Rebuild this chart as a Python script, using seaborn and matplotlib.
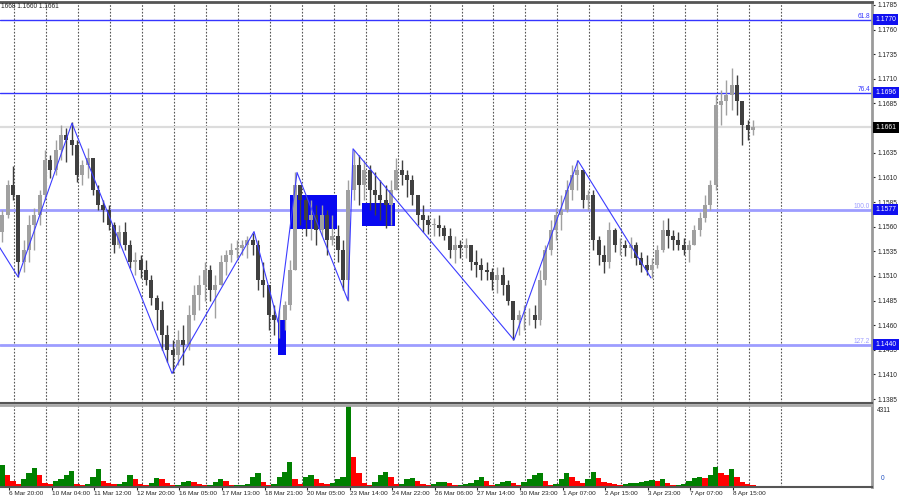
import numpy as np
import pandas as pd
import seaborn as sns
import matplotlib.pyplot as plt
import matplotlib.transforms as mtransforms
from matplotlib.patches import Rectangle

highs = [1.1577, 1.1607, 1.1622, 1.1592, 1.1546, 1.1572, 1.1579, 1.1597, 1.1638, 1.1633,
         1.1648, 1.1663, 1.1660, 1.1666, 1.1648, 1.1628, 1.1640, 1.1630, 1.1602, 1.1587,
         1.1582, 1.1565, 1.1562, 1.1565, 1.1546, 1.1534, 1.1531, 1.1526, 1.1511, 1.1491,
         1.1485, 1.1460, 1.1445, 1.1455, 1.1460, 1.1480, 1.1501, 1.1511, 1.1524, 1.1521,
         1.1511, 1.1531, 1.1536, 1.1543, 1.1546, 1.1546, 1.1551, 1.1554, 1.1546, 1.1524,
         1.1501, 1.1480, 1.1475, 1.1485, 1.1526, 1.1615, 1.1602, 1.1592, 1.1587, 1.1582,
         1.1582, 1.1577, 1.1572, 1.1562, 1.1546, 1.1607, 1.1638, 1.1633, 1.1628, 1.1623,
         1.1615, 1.1607, 1.1602, 1.1607, 1.1630, 1.1628, 1.1617, 1.1612, 1.1592, 1.1582,
         1.1572, 1.1569, 1.1572, 1.1562, 1.1559, 1.1551, 1.1546, 1.1548, 1.1541, 1.1536,
         1.1528, 1.1524, 1.1518, 1.1519, 1.1519, 1.1506, 1.1485, 1.1475, 1.1480, 1.1477,
         1.1480, 1.1516, 1.1541, 1.1567, 1.1579, 1.1592, 1.1607, 1.1623, 1.1628, 1.1617,
         1.1597, 1.1597, 1.1551, 1.1541, 1.1565, 1.1559, 1.1548, 1.1546, 1.1549, 1.1544,
         1.1534, 1.1531, 1.1528, 1.1541, 1.1567, 1.1569, 1.1557, 1.1555, 1.1548, 1.1546,
         1.1562, 1.1575, 1.1592, 1.1607, 1.1694, 1.1699, 1.1709, 1.1721, 1.1714, 1.1688,
         1.1668, 1.1668]
lows = [1.1544, 1.1569, 1.1587, 1.1509, 1.1514, 1.1524, 1.1536, 1.1562, 1.1587, 1.1609,
        1.1612, 1.1628, 1.1626, 1.1633, 1.1605, 1.1602, 1.1609, 1.1592, 1.1577, 1.1565,
        1.1557, 1.1533, 1.1538, 1.1536, 1.1518, 1.1511, 1.1508, 1.1501, 1.1480, 1.1455,
        1.1435, 1.1423, 1.1411, 1.1420, 1.1420, 1.1435, 1.1465, 1.1475, 1.1485, 1.1485,
        1.1467, 1.1501, 1.1511, 1.1524, 1.1528, 1.1531, 1.1528, 1.1531, 1.1496, 1.1489,
        1.1455, 1.1450, 1.1447, 1.1455, 1.1475, 1.1516, 1.1562, 1.1551, 1.1546, 1.1541,
        1.1551, 1.1531, 1.1541, 1.1524, 1.1496, 1.1485, 1.1587, 1.1582, 1.1587, 1.1577,
        1.1572, 1.1567, 1.1559, 1.1562, 1.1597, 1.1602, 1.1590, 1.1582, 1.1562, 1.1555,
        1.1553, 1.1551, 1.1551, 1.1546, 1.1528, 1.1523, 1.1528, 1.1528, 1.1516, 1.1509,
        1.1506, 1.1506, 1.1496, 1.1493, 1.1491, 1.1480, 1.1445, 1.1450, 1.1455, 1.1460,
        1.1457, 1.1460, 1.1501, 1.1531, 1.1546, 1.1557, 1.1575, 1.1587, 1.1597, 1.1579,
        1.1577, 1.1536, 1.1521, 1.1513, 1.1518, 1.1534, 1.1531, 1.1530, 1.1528, 1.1521,
        1.1514, 1.1511, 1.1508, 1.1518, 1.1534, 1.1538, 1.1536, 1.1536, 1.1531, 1.1524,
        1.1541, 1.1551, 1.1565, 1.1577, 1.1597, 1.1663, 1.1673, 1.1678, 1.1673, 1.1643,
        1.1648, 1.1653]
closes = [1.1572, 1.1602, 1.1592, 1.1524, 1.1536, 1.1562, 1.1572, 1.1592, 1.1628, 1.1617,
          1.1638, 1.1653, 1.1648, 1.1643, 1.1612, 1.1623, 1.1630, 1.1597, 1.1582, 1.1577,
          1.1562, 1.1541, 1.1555, 1.1541, 1.1524, 1.1526, 1.1516, 1.1506, 1.1488, 1.1475,
          1.1450, 1.1435, 1.1430, 1.1445, 1.1440, 1.1470, 1.1491, 1.1501, 1.1516, 1.1496,
          1.1501, 1.1524, 1.1531, 1.1536, 1.1538, 1.1541, 1.1546, 1.1541, 1.1506, 1.1501,
          1.1470, 1.1465, 1.1465, 1.1480, 1.1516, 1.1602, 1.1587, 1.1567, 1.1572, 1.1557,
          1.1572, 1.1546, 1.1551, 1.1536, 1.1506, 1.1597, 1.1623, 1.1602, 1.1617, 1.1597,
          1.1592, 1.1587, 1.1582, 1.1597, 1.1617, 1.1612, 1.1607, 1.1592, 1.1572, 1.1567,
          1.1562, 1.1562, 1.1559, 1.1551, 1.1536, 1.1541, 1.1538, 1.1541, 1.1524, 1.1521,
          1.1516, 1.1514, 1.1506, 1.1511, 1.1501, 1.1485, 1.1465, 1.1470, 1.1470, 1.1470,
          1.1465, 1.1506, 1.1536, 1.1557, 1.1572, 1.1577, 1.1597, 1.1612, 1.1617, 1.1587,
          1.1592, 1.1546, 1.1531, 1.1524, 1.1557, 1.1541, 1.1541, 1.1538, 1.1541, 1.1528,
          1.1521, 1.1516, 1.1521, 1.1536, 1.1557, 1.1551, 1.1546, 1.1541, 1.1536, 1.1541,
          1.1557, 1.1569, 1.1582, 1.1602, 1.1683, 1.1688, 1.1694, 1.1704, 1.1688, 1.1663,
          1.1658, 1.1661]
first_open = 1.1555
volumes = [1170, 640, 320, 160, 430, 745, 1010, 640, 210, 160,
           320, 430, 640, 850, 160, 110, 160, 530, 960, 320,
           210, 160, 160, 270, 640, 430, 160, 110, 210, 480,
           430, 210, 110, 110, 270, 320, 270, 160, 110, 110,
           270, 430, 320, 110, 110, 110, 160, 530, 745, 270,
           110, 160, 530, 800, 1330, 430, 160, 530, 640, 430,
           210, 160, 210, 430, 530, 4311, 1600, 745, 210, 110,
           270, 640, 800, 530, 160, 160, 430, 480, 320, 160,
           110, 160, 270, 270, 210, 110, 110, 160, 210, 370,
           530, 320, 110, 160, 270, 320, 210, 110, 270, 430,
           640, 745, 320, 110, 160, 430, 745, 530, 320, 210,
           430, 800, 480, 270, 210, 160, 110, 160, 210, 210,
           270, 320, 370, 320, 430, 210, 110, 110, 160, 320,
           480, 530, 480, 640, 1060, 745, 640, 960, 530, 270,
           160, 110]

time_labels = ["6 Mar 20:00", "10 Mar 04:00", "11 Mar 12:00", "12 Mar 20:00", "16 Mar 05:00",
               "17 Mar 13:00", "18 Mar 21:00", "20 Mar 05:00", "23 Mar 14:00", "24 Mar 22:00",
               "26 Mar 06:00", "27 Mar 14:00", "30 Mar 23:00", "1 Apr 07:00", "2 Apr 15:00",
               "3 Apr 23:00", "7 Apr 07:00", "8 Apr 15:00"]

fib_levels = [1.1770, 1.1696, 1.1577, 1.1440]
fib_names = ["61.8", "76.4", "100.0", "127.2"]
last_price = 1.1661

zigzag_hours = [-8, 6.8, 47.3, 122.5, 184.1, 202.1, 216.4, 254.7, 258.5, 379.4, 427.5, 482.3]
zigzag_prices = [1.1541, 1.1509, 1.1665, 1.1411, 1.1555, 1.1463, 1.1615, 1.1485, 1.1639,
                 1.1445, 1.1627, 1.1508]

box_start = [211.1, 265.2, 201.9]
box_end = [246.4, 290.0, 207.9]
box_top = [1.1592, 1.1584, 1.1465]
box_bottom = [1.1558, 1.1561, 1.1430]

# ---- layout
sns.set_theme(style="white")
plt.rcParams["font.family"] = ["Liberation Sans", "DejaVu Sans"]

fig = plt.figure(figsize=(9, 5), dpi=100)
W, H = 900, 500
ax = fig.add_axes([0, 1 - 403 / H, 872 / W, 401 / H])
axv = fig.add_axes([0, 1 - 487 / H, 872 / W, 82 / H])

xmin, xmax = -6.76, 648.4
bar_hours = np.arange(len(closes)) * 4 - 5
opens = [first_open] + closes[:-1]
df = pd.DataFrame({"h": bar_hours, "o": opens, "hi": highs, "lo": lows, "c": closes, "v": volumes})
df["up"] = df["c"] >= df["o"]
up_col, dn_col = "#a0a0a0", "#404040"
cols = np.where(df["up"], up_col, dn_col)

# grid (one dotted line per day)
grid_hours = np.arange(4, 581, 24)
for a in (ax, axv):
    a.vlines(grid_hours, 0, 1, transform=a.get_xaxis_transform(), colors="#555555",
             linestyles=(0, (1.5, 1.5)), lw=0.8, zorder=0)

# fibo levels + current price line
fib_cols = ["#3535ff", "#3535ff", "#9d9dff", "#9d9dff"]
fib_lw = [1.0, 1.0, 2.0, 2.0]
for lvl, c, lw in zip(fib_levels, fib_cols, fib_lw):
    ax.axhline(lvl, color=c, lw=lw, zorder=1)
ax.axhline(last_price, color="#dcdcdc", lw=1.6, zorder=1)

# rectangles
for s, e, t, b in zip(box_start, box_end, box_top, box_bottom):
    ax.add_patch(Rectangle((s, b), e - s, t - b, color="#0808f0", lw=0, zorder=2))

# candles
ax.vlines(df["h"], df["lo"], df["hi"], colors=cols, lw=1.0, zorder=3)
body_lo = np.minimum(df["o"], df["c"])
body_h = np.maximum(np.abs(df["c"] - df["o"]), 0.00006)
ax.bar(df["h"], body_h, bottom=body_lo, width=3.0, color=cols, lw=0, zorder=3)

# zigzag
sns.lineplot(x=zigzag_hours, y=zigzag_prices, ax=ax, color="#3c3cff", lw=0.8,
             sort=False, estimator=None, zorder=4)

ax.set_xlim(xmin, xmax)
ax.set_ylim(1.1381, 1.1788)
ax.set_xticks([])
ax.yaxis.tick_right()
yt = np.arange(11385, 11786, 25) / 10000
ax.set_yticks(yt)
# the label under the current price box is hidden, as in the terminal
ax.set_yticklabels(["" if abs(v - last_price) < 0.0004 else f"{v:.4f}" for v in yt])
ax.tick_params(axis="y", direction="out", length=2, width=0.8, pad=2, labelsize=4.7,
               colors="#222222", right=True)
ax.set_xlabel("")
ax.set_ylabel("")

# right side price boxes
trans = mtransforms.blended_transform_factory(ax.transAxes, ax.transData)
for lvl, name, c in zip(fib_levels, fib_names, fib_cols):
    ax.text(1.004, lvl, f"{lvl:.4f}", transform=trans, ha="left", va="center", fontsize=4.9,
            color="white", clip_on=False, zorder=10,
            bbox=dict(boxstyle="square,pad=0.3", fc="#1010f0", ec="none"))
    ax.text(0.998, lvl, name, transform=trans, ha="right", va="bottom", fontsize=4.7,
            color=c, zorder=10)
ax.text(1.004, last_price, f"{last_price:.4f}", transform=trans, ha="left", va="center",
        fontsize=4.9, color="white", clip_on=False, zorder=10,
        bbox=dict(boxstyle="square,pad=0.3", fc="black", ec="none"))

ax.spines["left"].set_visible(False)
ax.spines["top"].set_color("#555555")
ax.spines["top"].set_linewidth(2)
ax.spines["right"].set_color("#9a9a9a")
ax.spines["right"].set_linewidth(2)
ax.spines["bottom"].set_color("#555555")
ax.spines["bottom"].set_linewidth(1.5)

# volumes: green when volume grew vs previous bar, red otherwise
vol_dir = ["up"] + ["up" if volumes[i] >= volumes[i - 1] else "down" for i in range(1, len(volumes))]
sns.barplot(x=bar_hours, y=volumes, hue=vol_dir, palette={"up": "#008000", "down": "#ff0000"},
            native_scale=True, dodge=False, width=1.0, saturation=1, errorbar=None,
            linewidth=0, legend=False, ax=axv)
axv.set_xlim(xmin, xmax)
axv.set_ylim(0, 4311)
axv.set_yticks([])
axv.set_xlabel("")
axv.set_ylabel("")
axv.set_xticks(np.arange(len(time_labels)) * 32)
axv.set_xticklabels(time_labels, ha="left")
axv.tick_params(axis="x", direction="out", length=2, width=0.8, pad=1, labelsize=4.6,
                colors="#222222", bottom=True)
axv.spines["left"].set_visible(False)
axv.spines["top"].set_color("#a8a8a8")
axv.spines["top"].set_linewidth(2)
axv.spines["right"].set_color("#9a9a9a")
axv.spines["right"].set_linewidth(2)
axv.spines["bottom"].set_color("#555555")
axv.spines["bottom"].set_linewidth(1.5)
axv.text(1.006, 0.97, "4311", transform=axv.transAxes, ha="left", va="top", fontsize=4.7,
         color="#222222")
axv.text(1.01, 0.06, "0", transform=axv.transAxes, ha="left", va="bottom", fontsize=4.7,
         color="#2050c0")

fig.text(0.001, 1 - 6 / H, "1668 1.1660 1.1661", ha="left", va="center", fontsize=4.7,
         color="#222222")

fig.savefig("out.png", dpi=100, facecolor="white")
